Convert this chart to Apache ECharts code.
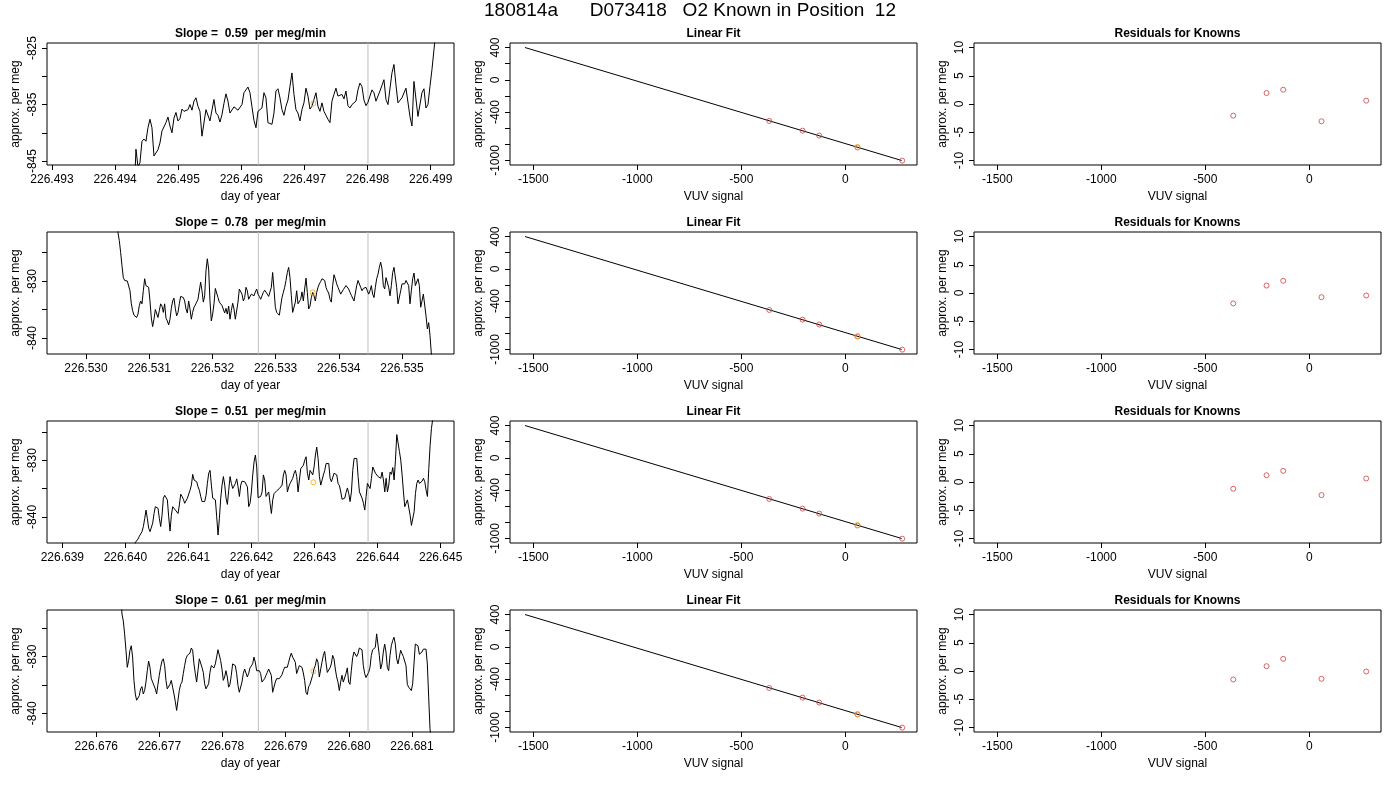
<!doctype html>
<html lang="en">
<head>
<meta charset="UTF-8">
<title>O2 Known in Position 12</title>
<script src="https://cdn.jsdelivr.net/npm/echarts@6/dist/echarts.min.js"></script>
<style>
html, body { margin: 0; background: #fff; }
#main { width: 1400px; height: 800px; }
</style>
</head>
<body>
<div id="main"></div>
<script>
// ---- data ----
var runLabel = '180814a      D073418   O2 Known in Position  12';
var slopes = ['0.59', '0.78', '0.51', '0.61'];

// first sample (day of year) and sampling interval (days) of each run
var tsStart = [226.494299, 226.530485, 226.640137, 226.676385];
var tsStep = [0.00003169, 0.0000211, 0.00002115, 0.00002112];

var ts1 = [-852,-842.9,-846,-845.3,-841.5,-841.1,-841.5,-839.1,-837.6,-839.1,-844.1,-844,-843,-841.8,-839.7,-839.4,-838.2,-837.2,-838.8,-840,
  -837.4,-836.4,-837.9,-837.5,-835.8,-836.2,-836.2,-835.9,-835,-836,-834.4,-833.8,-835.3,-836.2,-840.6,-840.3,-835.9,-835.9,-837.9,-837.6,
  -834.1,-836.5,-836.9,-838.1,-836.8,-834.8,-833.1,-834.4,-836.5,-836.5,-835.4,-835.2,-836,-835.9,-835,-832.9,-832.4,-831.9,-832.9,-835.4,
  -837.8,-839.1,-836.2,-835.9,-835.6,-832.9,-833.8,-838.2,-838.5,-838.5,-836.5,-832.6,-832.2,-833.8,-835.9,-836.9,-835.3,-834.2,-831.8,-829.4,
  -833.2,-835.9,-836.5,-837.9,-835.9,-834.7,-832.1,-833.5,-835.8,-835.3,-834.1,-832.9,-835.3,-836.2,-834.7,-836.2,-836.9,-837.6,-838.2,-834.4,
  -833.2,-832.1,-833.5,-833.2,-833.2,-834,-832.6,-835.2,-835.6,-835,-835,-834.4,-832.4,-831.2,-831.8,-834.2,-835.2,-834.6,-833.5,-832.4,
  -832.9,-834.4,-834.4,-832.6,-831.6,-830.6,-834.1,-835,-835,-829.4,-827.9,-831.5,-834.7,-835,-833.8,-833.5,-832.1,-831.8,-837.1,-838.8,
  -830.9,-831.2,-837.1,-836.8,-832.9,-832.2,-835.6,-835,-831.8,-828.8,-825.3,-821.8,-818];

var ts2 = [-818,-821.5,-822.9,-825,-827.3,-829.4,-829.9,-829.9,-830,-830.2,-831.7,-834,-835.2,-836,-836.3,-836.4,-835.8,-834.3,-833.5,-834,
  -831.7,-829.6,-830.8,-830.8,-831.1,-833.5,-836.5,-838,-836.7,-835,-835.2,-836.4,-835.2,-834,-834.4,-835.5,-834,-836.5,-837,-837.7,
  -836.7,-834.8,-833.5,-833,-834.8,-836.1,-835.5,-834,-832.7,-832.7,-832.9,-833.5,-834.9,-835.6,-833.5,-834.9,-836.7,-835.5,-834.6,-834.2,
  -833.7,-833.2,-832.9,-830.2,-831.7,-833.7,-832.6,-828.2,-826.1,-827.9,-833.5,-837,-835.8,-834,-831.3,-831.4,-832.9,-833.7,-833.9,-834.3,
  -834.4,-835.6,-834.8,-835.8,-834.4,-836.7,-835.2,-833.9,-834.9,-836.7,-836.4,-833.7,-831.4,-831.4,-832.3,-833.5,-832.9,-831.1,-831.7,-833.2,
  -832.9,-832.3,-832.3,-832.6,-831.9,-831.4,-832.3,-832.7,-833.2,-832.6,-832,-831.6,-831.7,-832.3,-832.7,-833,-831.1,-828.5,-831.4,-834.6,
  -835.5,-835.8,-836,-834.4,-832.9,-832,-831.1,-829.9,-828.5,-827.6,-829.4,-832.6,-835.5,-835.8,-833.7,-831.7,-834,-834.3,-833.2,-831.9,
  -833.5,-831.4,-829.5,-832,-834.9,-834.4,-832.9,-832,-832.6,-833.5,-832,-831.1,-830.5,-830.1,-829.6,-829.5,-829.9,-831.1,-831.7,-832.1,
  -833.2,-833.7,-830.8,-828.9,-829.6,-830.5,-831.1,-831.4,-832.3,-832,-831.5,-831.7,-830.8,-830.5,-831.4,-832,-832.5,-832.3,-833.5,-833.7,
  -830.8,-829.9,-830.2,-831.1,-831.7,-831.3,-831.4,-831.1,-831.7,-832.3,-831.7,-830.8,-832.3,-832.9,-831.1,-829.6,-828.8,-827.6,-826.7,-827.9,
  -830.8,-831.4,-829.4,-829.6,-831.1,-832.6,-830.8,-828.5,-827.6,-827.3,-831.1,-834,-833.7,-831.7,-830.5,-830.2,-830.5,-829.9,-829.8,-830.8,
  -834,-831.7,-829.6,-828.6,-830.8,-831.1,-829.6,-830.8,-834.6,-833.5,-832.3,-832.6,-836.1,-838.4,-837.3,-839.6,-842.8,-846];

var ts3 = [-847,-844.5,-844.2,-843.9,-843.4,-843,-842.6,-841.7,-840.3,-838.8,-840.3,-842,-842.6,-842.5,-841.1,-839.4,-838.2,-838.2,-838.5,-840.3,
  -841.7,-839.7,-836.7,-836.2,-835.9,-837,-840,-842.5,-839.7,-838.2,-838.5,-838.8,-838.5,-839.4,-837.9,-836,-836.4,-836.9,-837.6,-837.6,
  -836.7,-836.4,-835.3,-834.4,-832.5,-833.5,-833.5,-833.8,-834.7,-835.3,-836.4,-837.3,-837.6,-837.3,-836.2,-834.1,-832.3,-831.8,-834.4,-836.7,
  -836.4,-837,-840,-843.2,-840.3,-836.7,-834.4,-832.9,-834.4,-836.7,-837.8,-835.3,-832.9,-834.1,-835,-835,-834.1,-833.3,-834.7,-836.4,
  -834.4,-833.7,-833.5,-833.8,-833.5,-834.7,-838.2,-837.6,-835.6,-832.6,-830.3,-829.1,-831.2,-836.6,-836.7,-836.4,-835.6,-832.6,-833.5,-836.4,
  -836.7,-835.6,-837.6,-839.4,-837,-835.9,-836.2,-835.4,-835.4,-835,-835,-834.4,-832.6,-831.8,-832.6,-835.6,-834.7,-834.1,-833.8,-833.2,
  -832.3,-831.8,-832.9,-835.6,-833.5,-831.5,-831.3,-830.9,-830,-829.4,-832.3,-833.5,-831.8,-832.1,-832.6,-831.2,-829.1,-827.7,-829.7,-832.9,
  -834.4,-833.5,-832.6,-831.8,-830.6,-830.3,-830.6,-833.2,-833.8,-833.5,-832.3,-832.1,-832.6,-834.1,-834.5,-835.6,-836.9,-837,-836.7,-835.7,
  -834.9,-835.9,-837.3,-835.6,-831.8,-829.7,-829.4,-829.7,-832.9,-835.6,-835.3,-836.7,-837.6,-838.8,-836.4,-834.1,-834.4,-835,-833.2,-831.2,
  -831.5,-832.3,-832.1,-832.9,-832.6,-833.2,-832.1,-833.5,-835.6,-833.2,-835.6,-834.4,-832.1,-832.5,-831.3,-833.5,-830,-825.5,-825.3,-828.5,
  -830,-832.6,-835.6,-838.2,-837.6,-837,-837.3,-839.7,-841.5,-841.5,-839.1,-835.9,-834.1,-833.5,-834.1,-834.1,-833.7,-833.2,-833.8,-835.3,
  -836.4,-831.5,-827.4,-824.4,-822.7,-821,-819];

var ts4 = [-818,-822.5,-823.7,-826,-828.9,-831.9,-830.7,-828.9,-828.1,-830.1,-834.2,-836.6,-837.7,-837.9,-836.9,-835.7,-835.3,-836.6,-836,-834.5,
  -832.5,-830.8,-831.9,-833.9,-834.5,-834.2,-835.7,-836.6,-834.9,-833.3,-831.9,-830.8,-830.4,-831.6,-834.2,-835.7,-835.4,-834.9,-834.2,-835.4,
  -836.6,-837.9,-839.5,-837.7,-836,-834.9,-834.5,-833,-831.6,-830.4,-829.8,-829.8,-829.4,-828.5,-828.9,-831.3,-833,-834.5,-832.5,-830.4,
  -830.7,-831.9,-832.8,-834.8,-835.7,-836,-834.8,-832.8,-831.6,-831.9,-832,-831.3,-830.1,-828.8,-828.9,-830.7,-832.2,-834.2,-833.6,-832.5,
  -833.6,-835.4,-834.9,-833.3,-831.3,-831.6,-831.6,-833,-835.1,-836.3,-836.3,-834.5,-833,-832.2,-831.9,-833.6,-833,-832,-831.9,-831.3,
  -830.1,-831,-832.5,-832.2,-832.5,-833,-834.5,-834.7,-833.9,-833.3,-832.8,-832.2,-832.5,-833.3,-836.3,-835.4,-834.5,-833.9,-833.6,-833.9,
  -833.6,-833.2,-832.5,-831.9,-831.6,-831.9,-831,-830.1,-829.4,-830.1,-829.8,-831,-833,-832.8,-831.6,-831.3,-831.9,-832.9,-834.2,-836.3,
  -836.7,-835.3,-834.9,-834.8,-833.3,-832.2,-831.6,-830.4,-831,-833.6,-833.7,-831,-829.8,-829.1,-831,-832.8,-832.5,-832,-831.3,-829.8,
  -830.4,-832.2,-833.6,-834.5,-836,-834.5,-833.3,-834.5,-834.7,-833,-832,-834.5,-834.9,-832.5,-830.2,-829.2,-829.4,-830,-829.5,-828.5,
  -828.2,-828.8,-831.6,-833,-833.7,-833.6,-832.8,-831.9,-829.8,-828.8,-828.9,-828.4,-826,-826.3,-829.8,-832.2,-831.3,-829.2,-827.8,-829.2,
  -831.9,-832.5,-829.8,-828.1,-827.2,-826.6,-827.8,-830.4,-831.3,-831,-828.9,-829.5,-830,-829.8,-831.6,-834.9,-835.4,-835.1,-836,-834.8,
  -831.3,-827.8,-827.5,-828.1,-829.6,-829.6,-829.2,-828.7,-828.4,-828.7,-831.3,-837.1,-842.7,-845.3,-848];

var tsRuns = [ts1, ts2, ts3, ts4];

// grey cut marks and the sample marker (day of year, per meg)
var cuts = [[226.496269, 226.498007], [226.532727, 226.534462], [226.642108, 226.643848], [226.678566, 226.680303]];
var samplePts = [[226.497141, -834.8], [226.533586, -832.0], [226.642981, -833.9], [226.679437, -832.6]];

var dayRange = [[226.492921, 226.49937], [226.529383, 226.535823], [226.638757, 226.645211], [226.675219, 226.681665]];
var dayTicks = [
  [226.493, 226.494, 226.495, 226.496, 226.497, 226.498, 226.499],
  [226.530, 226.531, 226.532, 226.533, 226.534, 226.535],
  [226.639, 226.640, 226.641, 226.642, 226.643, 226.644, 226.645],
  [226.676, 226.677, 226.678, 226.679, 226.680, 226.681]
];
var megRange = [[-845.7, -824.1], [-842.8, -821.4], [-844.6, -823.1], [-843.3, -821.8]];
var megTicks = [[-845, -840, -835, -830, -825], [-840, -835, -830, -825], [-840, -835, -830, -825], [-840, -835, -830, -825]];
var megLabels = [[-845, -835, -825], [-840, -830], [-840, -830], [-840, -830]];

// linear fit of the knowns
var knownX = [-366, -206, -126, 58, 273];
var knownY = [-510, -630, -691, -839, -1002];
var fitX = [-1540, 270];
var fitY = [400, -1000];
var sampleFit = [58, -833];
var vuvRange = [-1612, 344];
var vuvTicks = [-1500, -1000, -500, 0];
var fitRange = [-1056, 456];
var fitTicks = [400, 200, 0, -200, -400, -600, -800, -1000];
var fitLabels = [400, 0, -400, -1000];

var resid = [
  [-2.06, 1.94, 2.53, -3.06, 0.59],
  [-1.85, 1.32, 2.15, -0.74, -0.44],
  [-1.2, 1.2, 1.97, -2.32, 0.62],
  [-1.5, 0.85, 2.15, -1.38, -0.09]
];
var residRange = [-10.8, 10.8];
var residTicks = [-10, -5, 0, 5, 10];

// ---- layout ----
var FONT = '"Liberation Sans", Arial, Helvetica, sans-serif';
var colLeft = [47, 510, 974];
var rowTop = [43, 232, 421, 610];
var boxW = 407, boxH = 122;
var KNOWN = '#cd4040', SAMPLE = '#ffa500';

function xAx(g, range, ticks, labels, fmt, name) {
  return {
    gridIndex: g, type: 'value', min: range[0], max: range[1],
    name: name, nameLocation: 'middle', nameGap: 26,
    nameTextStyle: { color: '#000', fontSize: 12, fontFamily: FONT },
    axisLine: { show: false, onZero: false }, splitLine: { show: false },
    axisTick: { show: true, length: 5, lineStyle: { color: '#000', width: 1 }, customValues: ticks },
    axisLabel: { customValues: labels, formatter: fmt, color: '#000', fontSize: 12, fontFamily: FONT, margin: 9 }
  };
}
function yAx(g, range, ticks, labels) {
  return {
    gridIndex: g, type: 'value', min: range[0], max: range[1],
    name: 'approx. per meg', nameLocation: 'middle', nameGap: 25,
    nameTextStyle: { color: '#000', fontSize: 12, fontFamily: FONT },
    axisLine: { show: false, onZero: false }, splitLine: { show: false },
    axisTick: { show: true, length: 5, lineStyle: { color: '#000', width: 1 }, customValues: ticks },
    axisLabel: { customValues: labels, rotate: 90, formatter: function (v) { return String(v); },
      color: '#000', fontSize: 12, fontFamily: FONT, margin: 8 }
  };
}
function circles(g, pts, color) {
  return {
    type: 'scatter', xAxisIndex: g, yAxisIndex: g, data: pts, symbol: 'circle', symbolSize: 5, z: 5,
    itemStyle: { color: 'rgba(0,0,0,0)', borderColor: color, borderWidth: 1 }, silent: true
  };
}
function txt(x, y, s, font) {
  return { type: 'text', x: x, y: y, silent: true,
    style: { text: s, font: font, fill: '#000', textAlign: 'center', align: 'center',
      textVerticalAlign: 'middle', verticalAlign: 'middle' } };
}

var grids = [], xAxes = [], yAxes = [], series = [], graphics = [];
graphics.push(txt(690, 11, runLabel, '19px ' + FONT));

for (var r = 0; r < 4; r++) {
  for (var c = 0; c < 3; c++) {
    grids.push({ left: colLeft[c], top: rowTop[r], width: boxW, height: boxH, show: true,
      borderColor: '#000', borderWidth: 1, backgroundColor: 'transparent' });
  }
  var g0 = r * 3, g1 = r * 3 + 1, g2 = r * 3 + 2;
  var ty = rowTop[r] - 9;
  graphics.push(txt(colLeft[0] + boxW / 2, ty, 'Slope =  ' + slopes[r] + '  per meg/min', 'bold 12px ' + FONT));
  graphics.push(txt(colLeft[1] + boxW / 2, ty, 'Linear Fit', 'bold 12px ' + FONT));
  graphics.push(txt(colLeft[2] + boxW / 2, ty, 'Residuals for Knowns', 'bold 12px ' + FONT));

  // time series
  xAxes.push(xAx(g0, dayRange[r], dayTicks[r], dayTicks[r], function (v) { return v.toFixed(3); }, 'day of year'));
  yAxes.push(yAx(g0, megRange[r], megTicks[r], megLabels[r]));
  cuts[r].forEach(function (d) {
    series.push({
      type: 'line', xAxisIndex: g0, yAxisIndex: g0, symbol: 'none', silent: true, z: 1,
      data: [[d, megRange[r][0]], [d, megRange[r][1]]],
      lineStyle: { color: '#bebebe', width: 1 }
    });
  });
  var vals = tsRuns[r];
  var line = vals.map(function (v, i) { return [tsStart[r] + i * tsStep[r], v]; });
  series.push({
    type: 'line', xAxisIndex: g0, yAxisIndex: g0, data: line, symbol: 'none', showSymbol: false,
    lineStyle: { color: '#000', width: 1 }, clip: true, silent: true, z: 2
  });
  series.push(circles(g0, [samplePts[r]], SAMPLE));

  // linear fit
  xAxes.push(xAx(g1, vuvRange, vuvTicks, vuvTicks, function (v) { return String(v); }, 'VUV signal'));
  yAxes.push(yAx(g1, fitRange, fitTicks, fitLabels));
  series.push({
    type: 'line', xAxisIndex: g1, yAxisIndex: g1, symbol: 'none', silent: true,
    data: fitX.map(function (x, i) { return [x, fitY[i]]; }),
    lineStyle: { color: '#000', width: 1 }
  });
  series.push(circles(g1, knownX.map(function (x, i) { return [x, knownY[i]]; }), KNOWN));
  series.push(circles(g1, [sampleFit], SAMPLE));

  // residuals
  xAxes.push(xAx(g2, vuvRange, vuvTicks, vuvTicks, function (v) { return String(v); }, 'VUV signal'));
  yAxes.push(yAx(g2, residRange, residTicks, residTicks));
  series.push(circles(g2, knownX.map(function (x, i) { return [x, resid[r][i]]; }), KNOWN));
}

var chart = echarts.init(document.getElementById('main'), null, { renderer: 'canvas' });
chart.setOption({
  animation: false,
  backgroundColor: '#fff',
  grid: grids,
  xAxis: xAxes,
  yAxis: yAxes,
  series: series,
  graphic: graphics
});
</script>
</body>
</html>
